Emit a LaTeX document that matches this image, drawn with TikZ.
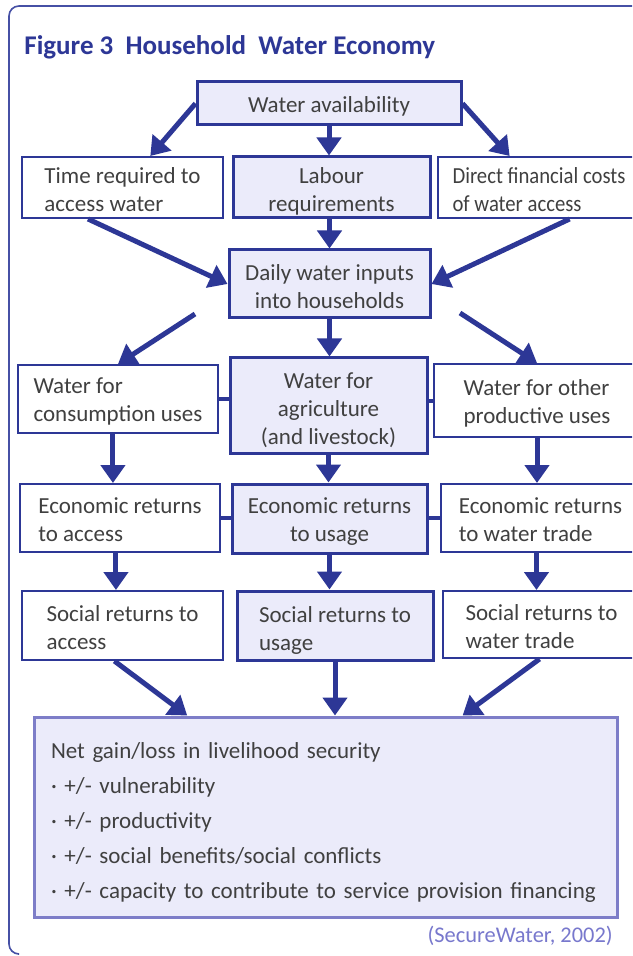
\documentclass[tikz,border=0pt]{standalone}
\usepackage{fontspec}
\setmainfont{Carlito}
\newfontfamily\narrowfont{Carlito}[FakeStretch=0.9]
\usetikzlibrary{arrows.meta,calc}
\definecolor{dblue}{RGB}{45,55,150}
\definecolor{lav}{RGB}{235,235,250}
\definecolor{netb}{RGB}{125,125,200}
\definecolor{txt}{RGB}{64,64,64}
\definecolor{citec}{RGB}{120,120,205}
\definecolor{framec}{RGB}{70,80,165}
\newcommand{\pd}[1]{\rule{0pt}{#1}}
\begin{document}
\begin{tikzpicture}[x=0.5pt,y=-0.5pt,
  box/.style={draw=dblue, line width=1pt, rectangle, inner sep=0pt, text=txt,
    font=\fontsize{11.5}{14}\selectfont},
  midbox/.style={box, fill=lav, line width=1.5pt},
  arr/.style={draw=dblue, line width=2.5pt, -{Triangle[width=12pt,length=9pt]}},
  link/.style={draw=dblue, line width=2pt}]
\useasboundingbox (0,0) rectangle (632,956);
\clip (0,0) rectangle (632,956);
\fill[white] (0,0) rectangle (632,956);
% frame
\draw[draw=framec, line width=0.8pt, rounded corners=5pt] (18,954) -- (9,954) -- (9,6) -- (660,6);
% title
\node[anchor=west, text=dblue, font=\bfseries\fontsize{13.5}{15}\selectfont, inner sep=0pt] (title) at (24,47) {Figure 3\ \ Household\ \ Water Economy};
% boxes
\node[midbox, minimum width=132pt, minimum height=21.5pt, align=center] (avail) at (329,103.5) {\pd{11pt}Water availability};
\node[box, minimum width=100.5pt, minimum height=30.5pt, align=left] (time) at (122.5,187.5) {\pd{10.5pt}Time required to\\access water};
\node[midbox, minimum width=98.5pt, minimum height=30.5pt, align=center] (labour) at (331.5,187.5) {\pd{12pt}Labour\\requirements};
\node[box, minimum width=101pt, minimum height=30.5pt, align=left, font=\narrowfont\fontsize{11.5}{14}\selectfont] (direct) at (539,187.5) {\pd{10.5pt}Direct financial costs\\of water access};
\node[midbox, minimum width=100.5pt, minimum height=34pt, align=center] (daily) at (329.5,284) {\pd{11pt}Daily water inputs\\into households};
\node[box, minimum width=100pt, minimum height=34pt, align=left] (cons) at (118,399) {\pd{10.5pt}Water for\\consumption uses};
\node[midbox, minimum width=98.5pt, minimum height=47.5pt, align=center] (agri) at (328.5,405.5) {\pd{13pt}Water for\\agriculture\\(and livestock)};
\node[box, minimum width=103pt, minimum height=36.5pt, align=left] (other) at (537,400.5) {\pd{10.5pt}Water for other\\productive uses};
\node[box, minimum width=100pt, minimum height=34pt, align=left] (ecoacc) at (120,518) {\pd{10pt}Economic returns\\to access};
\node[midbox, minimum width=97.5pt, minimum height=34.5pt, align=center] (ecouse) at (329.5,518.5) {\pd{10.5pt}Economic returns\\to usage};
\node[box, minimum width=99.5pt, minimum height=34pt, align=left] (ecotrade) at (540.5,518) {\pd{10pt}Economic returns\\to water trade};
\node[box, minimum width=100.5pt, minimum height=34.5pt, align=left] (socacc) at (122.5,625.5) {\pd{10.5pt}Social returns to\\access};
\node[midbox, minimum width=98pt, minimum height=34.5pt, align=left] (socuse) at (335,625.5) {\pd{12.5pt}Social returns to\\usage};
\node[box, minimum width=98.5pt, minimum height=33.5pt, align=left] (soctrade) at (541.5,624.5) {\pd{10.5pt}Social returns to\\water trade};
\node[midbox, draw=netb, minimum width=291.5pt, minimum height=100pt, inner xsep=8.5pt,
  text width=274.5pt, align=left, font=\fontsize{11.5}{17.5}\selectfont] (net) at (325.5,817)
  {\pd{13pt}Net gain/loss in livelihood security\\
   · +/- vulnerability\\
   · +/- productivity\\
   · +/- social benefits/social conflicts\\
   · +/- capacity to contribute to service provision financing};
\node[anchor=east, text=citec, font=\fontsize{11.2}{14}\selectfont, inner sep=0pt] (cit) at (613,936) {(SecureWater, 2002)};
% row links
\draw[link] (cons.east) -- (cons.east -| agri.west);
\draw[link] (other.west) -- (other.west -| agri.east);
\draw[link] (ecoacc.east) -- (ecoacc.east -| ecouse.west);
\draw[link] (ecotrade.west) -- (ecotrade.west -| ecouse.east);
% free starts
\coordinate (dl) at (195,314);
\coordinate (dr) at (460,313);
% arrows
\draw[arr] (avail.west) -- ($(time.north west)!0.637!(time.north east)$);
\draw[arr] (avail.south) -- (avail.south |- labour.north);
\draw[arr] (avail.east) -- ($(direct.north west)!0.356!(direct.north east)$);
\draw[arr] ($(time.south west)!0.33!(time.south east)$) -- (daily.west);
\draw[arr] (labour.south -| daily.north) -- (daily.north);
\draw[arr] ($(direct.south west)!0.65!(direct.south east)$) -- (daily.east);
\draw[arr] (dl) -- (cons.north);
\draw[arr] (daily.south) -- (daily.south |- agri.north);
\draw[arr] (dr) -- (other.north);
\coordinate (c1) at ($(cons.south west)!0.475!(cons.south east)$);
\draw[arr] (c1) -- (c1 |- ecoacc.north);
\draw[arr] (agri.south) -- (agri.south |- ecouse.north);
\draw[arr] (other.south) -- (other.south |- ecotrade.north);
\coordinate (c2) at ($(ecoacc.south west)!0.48!(ecoacc.south east)$);
\draw[arr] (c2) -- (c2 |- socacc.north);
\draw[arr] (ecouse.south) -- (ecouse.south |- socuse.north);
\coordinate (c3) at ($(ecotrade.south west)!0.48!(ecotrade.south east)$);
\draw[arr] (c3) -- (c3 |- soctrade.north);
\draw[arr] ($(socacc.south west)!0.46!(socacc.south east)$) -- ($(net.north west)!0.264!(net.north east)$);
\draw[arr] (socuse.south) -- (socuse.south |- net.north);
\draw[arr] ($(soctrade.south west)!0.49!(soctrade.south east)$) -- ($(net.north west)!0.734!(net.north east)$);
\end{tikzpicture}
\end{document}
